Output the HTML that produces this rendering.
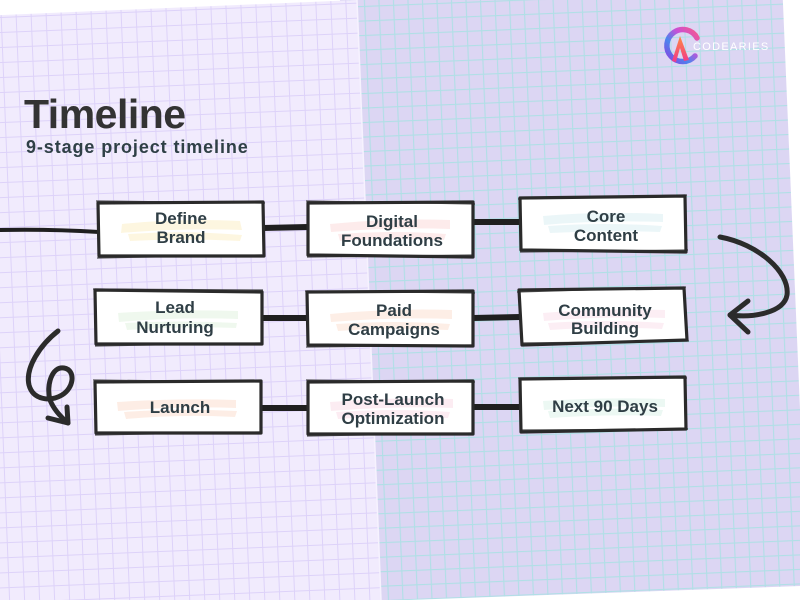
<!DOCTYPE html>
<html>
<head>
<meta charset="utf-8">
<style>
html,body{margin:0;padding:0;background:#fff;}
svg{display:block;}
.bt{font-family:"Liberation Sans",sans-serif;font-weight:bold;font-size:17px;fill:#2f3e45;text-anchor:middle;}
</style>
</head>
<body>
<svg width="800" height="600" viewBox="0 0 800 600" xmlns="http://www.w3.org/2000/svg">
<defs>
  <pattern id="gl" width="15" height="15" patternUnits="userSpaceOnUse" patternTransform="rotate(-2.3) translate(0,2)">
    <rect width="15" height="15" fill="#f1ebfd"/>
    <path d="M0 0.5H15M0.5 0V15" stroke="#ddd2f9" stroke-width="1"/>
  </pattern>
  <pattern id="gr" width="14.5" height="14.5" patternUnits="userSpaceOnUse" patternTransform="rotate(-2.3) translate(1,6)">
    <rect width="14.5" height="14.5" fill="#dcd6f3"/>
    <path d="M0 0.6H14.5M0.6 0V14.5" stroke="#b0dfe6" stroke-width="1.1"/>
  </pattern>
  <linearGradient id="ring" x1="1" y1="0" x2="0" y2="1">
    <stop offset="0" stop-color="#f65a8c"/>
    <stop offset="0.35" stop-color="#c94fd6"/>
    <stop offset="0.65" stop-color="#4a86ee"/>
    <stop offset="1" stop-color="#8e3fe0"/>
  </linearGradient>
  <linearGradient id="tri" x1="0" y1="0" x2="0" y2="1">
    <stop offset="0" stop-color="#ff8a3d"/>
    <stop offset="1" stop-color="#f0388e"/>
  </linearGradient>
</defs>

<!-- right paper -->
<polygon points="340,-20 782,-20 808,600 800,600 800,586 380,601 340,601" fill="url(#gr)"/>
<!-- left paper -->
<polygon points="-10,15.5 357,0 381,600 -10,600" fill="url(#gl)"/>
<line x1="357" y1="0" x2="381" y2="600" stroke="#f6f2fe" stroke-width="1.5"/>

<!-- logo -->
<path d="M697,38 A16,16 0 1 0 695,56" fill="none" stroke="url(#ring)" stroke-width="5.5" stroke-linecap="round"/>
<polygon points="672,61 680,36 689,60 684,61 680,48 676,62" fill="url(#tri)"/>
<text x="693" y="50" font-family="Liberation Sans,sans-serif" font-size="11" letter-spacing="1.3" fill="#ffffff">CODEARIES</text>

<!-- title -->
<text x="24" y="128" font-family="Liberation Sans,sans-serif" font-weight="bold" font-size="41" letter-spacing="-0.5" fill="#333333">Timeline</text>
<text x="26" y="153" font-family="Liberation Sans,sans-serif" font-weight="bold" font-size="18" letter-spacing="0.9" fill="#2f4046">9-stage project timeline</text>

<!-- connectors -->
<g stroke="#1f1f1f" stroke-linecap="round" fill="none">
  <path d="M0,230 Q50,229 99,232" stroke-width="4"/>
  <path d="M263,228 L308,227" stroke-width="6"/>
  <path d="M473,222 L520,222" stroke-width="6"/>
  <path d="M261,318 L307,318" stroke-width="6"/>
  <path d="M473,318 L520,317" stroke-width="6"/>
  <path d="M261,408 L308,408" stroke-width="6"/>
  <path d="M473,407 L520,407" stroke-width="6"/>
</g>

<!-- curved arrows -->
<g stroke="#2b2b2b" stroke-width="5" stroke-linecap="round" stroke-linejoin="round" fill="none">
  <path d="M720,237 C758,244 790,272 787,295 C784,313 752,318 730,315"/>
  <path d="M748,301 L730,315 L748,332"/>
  <path d="M58,331 C40,345 25,368 29,385 C33,400 50,402 62,395 C74,388 76,370 64,368 C52,366 46,385 50,400 C54,410 62,418 68,423"/>
  <path d="M48,418 L68,423 L67,407"/>
</g>

<!-- boxes -->
<g fill="#ffffff" stroke="#2a2a2a" stroke-width="3.2" stroke-linejoin="round">
  <polygon points="98,203 263,202 264,256 99,256"/>
  <polygon points="308,203 473,202 473,257 308,255"/>
  <polygon points="520,198 685,196 686,252 521,250"/>
  <polygon points="95,290 262,292 262,344 96,344"/>
  <polygon points="307,292 473,291 473,346 308,345"/>
  <polygon points="519,290 684,288 687,340 522,345"/>
  <polygon points="95,382 261,381 261,433 96,433"/>
  <polygon points="308,382 473,381 473,434 308,434"/>
  <polygon points="520,379 685,377 686,429 521,432"/>
</g>
<!-- sketchy double lines -->
<g fill="none" stroke="#2a2a2a" stroke-width="1.2" opacity="0.8">
  <path d="M96,201 L265,203 M97,258 L262,255"/>
  <path d="M306,201 L475,204 M307,257 L474,255"/>
  <path d="M518,199 L687,195 M520,252 L688,250"/>
  <path d="M93,289 L263,290 M95,346 L263,343"/>
  <path d="M305,291 L475,293 M306,347 L474,345"/>
  <path d="M517,292 L686,287 M521,343 L689,341"/>
  <path d="M93,380 L262,382 M95,435 L262,432"/>
  <path d="M306,380 L475,382 M307,436 L474,433"/>
  <path d="M518,378 L687,378 M520,430 L688,429"/>
</g>

<!-- highlights -->
<g opacity="0.6">
  <path d="M122,224 Q180,218 240,221 L242,230 Q180,228 121,233Z" fill="#fcf1cc"/>
  <path d="M128,234 Q185,230 242,235 L240,241 Q185,238 130,241Z" fill="#fcf1cc"/>
  <path d="M330,224 Q390,218 450,220 L450,229 Q390,227 331,232Z" fill="#fcdede"/>
  <path d="M338,234 Q392,230 446,234 L444,240 Q392,237 340,241Z" fill="#fcdede"/>
  <path d="M543,216 Q600,211 663,214 L663,222 Q600,220 544,225Z" fill="#dff1f4"/>
  <path d="M548,226 Q605,222 662,226 L660,232 Q605,230 550,233Z" fill="#dff1f4"/>
  <path d="M118,313 Q178,309 238,311 L238,319 Q178,317 119,322Z" fill="#e5f5e3"/>
  <path d="M125,323 Q180,320 237,323 L236,328 Q180,326 127,330Z" fill="#e5f5e3"/>
  <path d="M330,314 Q392,308 452,310 L452,319 Q392,317 331,322Z" fill="#fde3d6"/>
  <path d="M336,324 Q392,320 450,324 L448,330 Q392,327 338,331Z" fill="#fde3d6"/>
  <path d="M543,313 Q605,308 665,310 L665,318 Q605,316 544,321Z" fill="#fbe3ee"/>
  <path d="M548,323 Q605,319 664,323 L662,329 Q605,326 550,330Z" fill="#fbe3ee"/>
  <path d="M117,402 Q178,398 236,400 L236,408 Q178,406 118,411Z" fill="#fce2d4"/>
  <path d="M124,412 Q180,408 237,411 L235,417 Q180,414 126,419Z" fill="#fce2d4"/>
  <path d="M330,402 Q392,397 453,399 L453,408 Q392,406 331,411Z" fill="#fbe1ea"/>
  <path d="M336,412 Q392,408 450,412 L448,418 Q392,415 338,419Z" fill="#fbe1ea"/>
  <path d="M543,401 Q605,397 665,399 L665,407 Q605,405 544,410Z" fill="#e0f4ec"/>
  <path d="M548,411 Q605,407 663,410 L661,416 Q605,414 550,418Z" fill="#e0f4ec"/>
</g>

<!-- labels -->
<text class="bt" x="181" y="224">Define</text>
<text class="bt" x="181" y="243">Brand</text>
<text class="bt" x="392" y="227">Digital</text>
<text class="bt" x="392" y="246">Foundations</text>
<text class="bt" x="606" y="222">Core</text>
<text class="bt" x="606" y="241">Content</text>
<text class="bt" x="175" y="313">Lead</text>
<text class="bt" x="175" y="333">Nurturing</text>
<text class="bt" x="394" y="316">Paid</text>
<text class="bt" x="394" y="335">Campaigns</text>
<text class="bt" x="605" y="316">Community</text>
<text class="bt" x="605" y="334">Building</text>
<text class="bt" x="180" y="413">Launch</text>
<text class="bt" x="393" y="405">Post-Launch</text>
<text class="bt" x="393" y="424">Optimization</text>
<text class="bt" x="605" y="412">Next 90 Days</text>
</svg>
</body>
</html>
